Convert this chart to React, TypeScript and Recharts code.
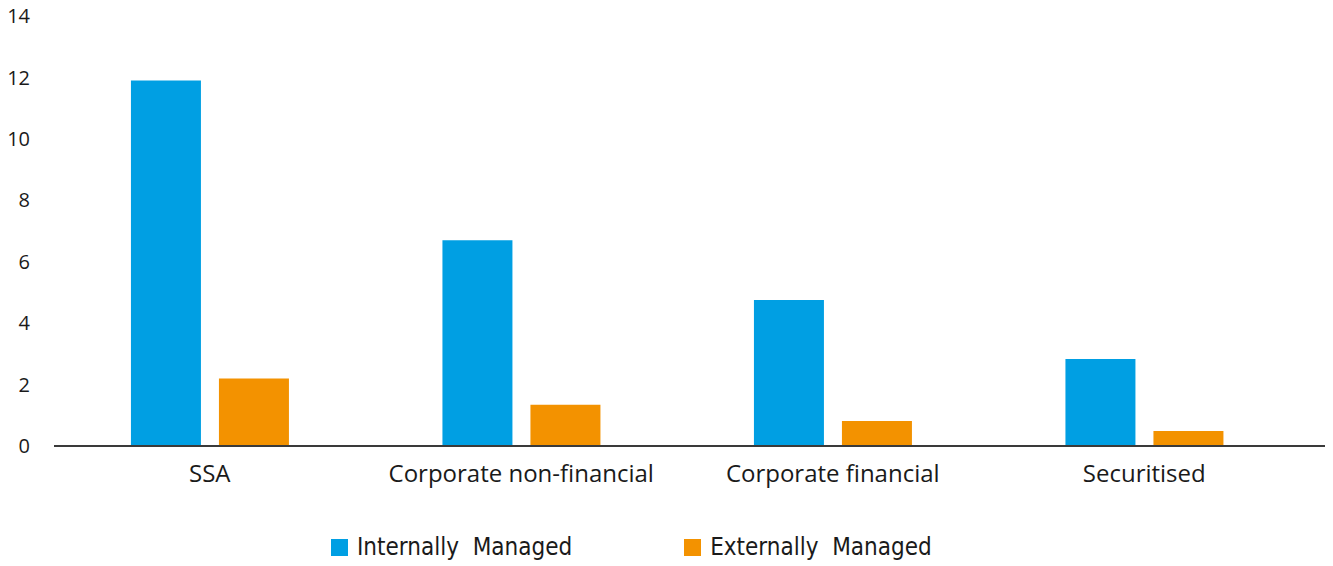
import React from 'react';
import { BarChart, Bar, XAxis, YAxis, Legend } from 'recharts';

const categories = ['SSA', 'Corporate non-financial', 'Corporate financial', 'Securitised'];
const internallyManaged = [11.9, 6.7, 4.75, 2.83];
const externallyManaged = [2.2, 1.34, 0.81, 0.49];
const yTicks = [0, 2, 4, 6, 8, 10, 12, 14];

const seriesNames = ['Internally  Managed', 'Externally  Managed'];
const seriesColors = ['#009FE3', '#F39200'];

const data = categories.map((name, i) => ({
  name,
  internal: internallyManaged[i],
  external: externallyManaged[i],
}));

const LegendContent = () => (
  <div style={{ display: 'flex', gap: 112, fontFamily: '"DejaVu Sans Condensed", "DejaVu Sans", sans-serif', fontSize: 24, color: '#1a1a1a' }}>
    {seriesNames.map((n, i) => (
      <div key={n} style={{ display: 'flex', alignItems: 'center', whiteSpace: 'pre' }}>
        <span style={{ display: 'inline-block', width: 17, height: 17, background: seriesColors[i], marginRight: 9 }} />
        {n}
      </div>
    ))}
  </div>
);

const App = () => {
  return (
    <div style={{ marginTop: -8 }}>
      <BarChart
        width={1325}
        height={566}
        data={data}
        margin={{ top: 16, right: 6, left: 0, bottom: 30 }}
        barGap={18}
        barCategoryGap="24.7%"
      >
        <XAxis
          dataKey="name"
          height={60}
          tickLine={false}
          tickSize={0}
          tickMargin={19}
          padding={{ left: 0, right: 27 }}
          axisLine={{ stroke: '#3a3a3a', strokeWidth: 2 }}
          tick={{ fill: '#1a1a1a', fontSize: 24, fontFamily: '"Open Sans", sans-serif' }}
          interval={0}
        />
        <YAxis
          width={46}
          domain={[0, 14]}
          ticks={yTicks}
          axisLine={false}
          tickLine={false}
          tickSize={0}
          tickMargin={24}
          tick={{ fill: '#1a1a1a', fontSize: 20, fontFamily: '"Open Sans", sans-serif' }}
        />
        <Legend
          verticalAlign="bottom"
          height={30}
          content={<LegendContent />}
          wrapperStyle={{ top: 533, left: 323, width: 'auto' }}
        />
        <Bar dataKey="internal" name={seriesNames[0]} fill={seriesColors[0]} isAnimationActive={false} />
        <Bar dataKey="external" name={seriesNames[1]} fill={seriesColors[1]} isAnimationActive={false} />
      </BarChart>
    </div>
  );
};

export default App;
